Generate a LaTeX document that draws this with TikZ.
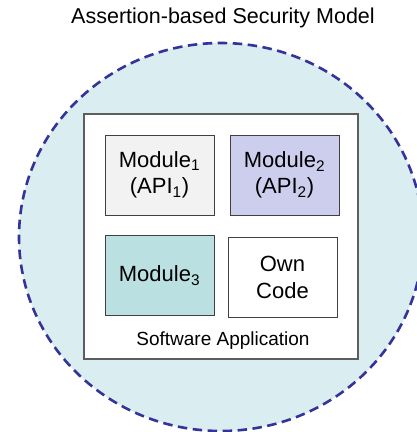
\documentclass[tikz,border=0pt]{standalone}
\usepackage{fontspec}
\setmainfont{Liberation Sans}
\definecolor{zonefill}{HTML}{DAEDF0}
\definecolor{zoneline}{HTML}{333399}
\definecolor{modA}{HTML}{F2F2F2}
\definecolor{modB}{HTML}{CDCDEE}
\definecolor{modC}{HTML}{BAE0E2}
\definecolor{boxline}{HTML}{404040}
\tikzset{
  modbox/.style={draw=boxline, line width=1pt, minimum width=109pt, minimum height=80pt, inner sep=0pt, align=center, font=\fontsize{22}{26.5}\selectfont},
  appbox/.style={draw=boxline!85, line width=1.3pt, fill=white},
}
\begin{document}
\begin{tikzpicture}[x=1pt,y=-1pt]
\useasboundingbox (0,0) rectangle (417,432);
\clip (0,0) rectangle (417,432);
\node[font=\fontsize{21.5}{26}\selectfont, inner sep=0pt] (title) at (223,18) {Assertion-based Security Model};
\draw[fill=zonefill, draw=zoneline, line width=2.6pt, dash pattern=on 9.5pt off 5.5pt] (221,237) ellipse [x radius=202, y radius=194];
\draw[appbox] (84,114) rectangle (358,359);
\node[modbox, fill=modA] (m1) at (159.5,175) {Module\textsubscript{1}\\(API\textsubscript{1})};
\node[modbox, fill=modB] (m2) at (284.5,175) {Module\textsubscript{2}\\(API\textsubscript{2})};
\node[modbox, fill=modC] (m3) at (159.5,275.5) {Module\textsubscript{3}};
\node[modbox, fill=white] (own) at (282.5,277.5) {Own\\Code};
\node[font=\fontsize{19}{23}\selectfont, inner sep=0pt] (app) at (223,341) {Software Application};
\end{tikzpicture}
\end{document}
